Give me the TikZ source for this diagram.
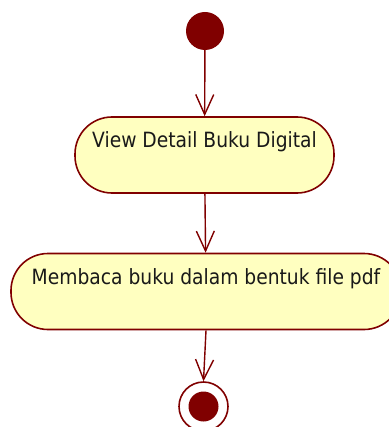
\documentclass[tikz,border=0pt]{standalone}
\usepackage{fontspec}
\setmainfont{DejaVu Sans}
\usetikzlibrary{arrows.meta}
\definecolor{umlline}{HTML}{800000}
\definecolor{umlfill}{HTML}{FFFFC0}
\tikzset{
  x=1pt, y=-1pt,
  flow/.style={draw=umlline, line width=1.4pt,
    -{Straight Barb[length=20pt,width=18pt,line width=1.4pt]}},
  actbox/.style={draw=umlline, fill=umlfill, line width=1.6pt,
    rounded corners=37pt, inner sep=0pt, minimum height=76pt,
    text height=16pt, text depth=30pt, text=black!90,
    font=\fontsize{21pt}{24pt}\selectfont},
  startdot/.style={circle, fill=umlline, inner sep=0pt, minimum size=38pt},
  enddot/.style={circle, fill=umlline, inner sep=0pt, minimum size=30pt},
  endring/.style={circle, draw=umlline, line width=1.6pt, inner sep=0pt, minimum size=49pt}
}
\begin{document}
\begin{tikzpicture}
\useasboundingbox (0,0) rectangle (388,427);
\node[startdot] (start) at (205,31) {};
\node[actbox, minimum width=259pt] (view) at (204.5,155)
  {\scalebox{0.89}[1]{View Detail Buku Digital}};
\node[actbox, minimum width=390pt] (read) at (206,291.5)
  {\scalebox{0.89}[1]{Membaca buku dalam bentuk file pdf}};
\node[endring] (stop) at (203.5,406.5) {};
\node[enddot] (stopdot) at (stop.center) {};
\draw[flow] (start) -- (view);
\draw[flow] (view) -- (read);
\draw[flow] (read.south) -- (stop.north);
\end{tikzpicture}
\end{document}
